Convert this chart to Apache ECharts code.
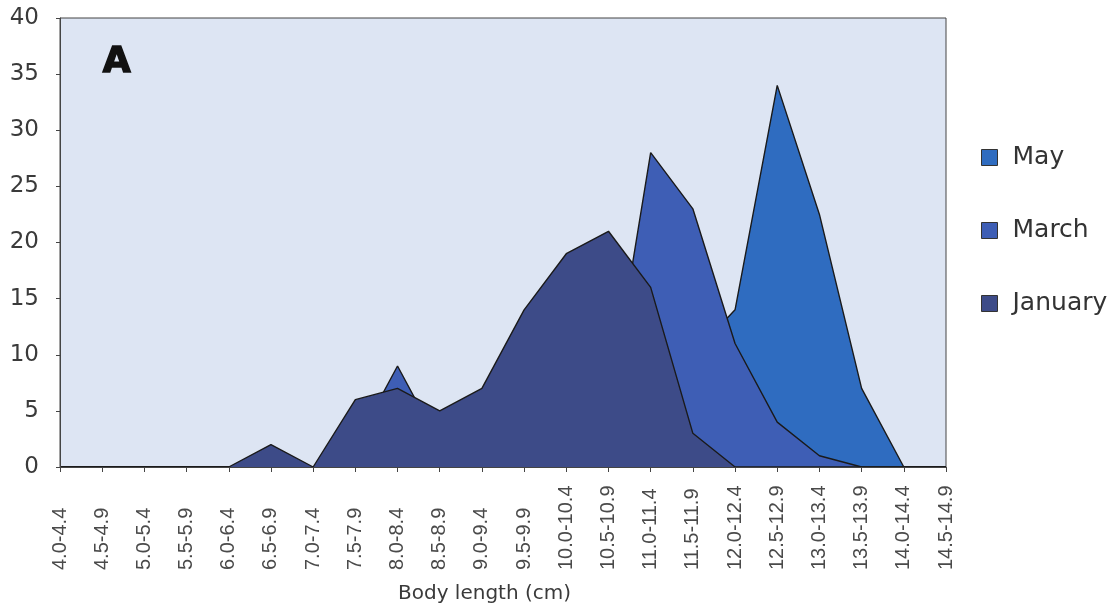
<!DOCTYPE html>
<html>
<head>
<meta charset="utf-8">
<title>Body length distribution</title>
<script src="https://cdn.jsdelivr.net/npm/echarts@6/dist/echarts.min.js"></script>
<style>
  html, body { margin: 0; padding: 0; background: #ffffff; }
  #chart { width: 1119px; height: 614px; }
</style>
</head>
<body>
<div id="chart"></div>
<script>
// Body length classes (cm)
const lengthClasses = [
  '4.0-4.4', '4.5-4.9', '5.0-5.4', '5.5-5.9', '6.0-6.4', '6.5-6.9',
  '7.0-7.4', '7.5-7.9', '8.0-8.4', '8.5-8.9', '9.0-9.4', '9.5-9.9',
  '10.0-10.4', '10.5-10.9', '11.0-11.4', '11.5-11.9', '12.0-12.4',
  '12.5-12.9', '13.0-13.4', '13.5-13.9', '14.0-14.4', '14.5-14.9'
];

// Frequencies per length class for each sampling month
const mayValues     = [0, 0, 0, 0, 0, 0, 0, 0, 0, 0, 0, 0, 0, 0, 4, 10, 14, 34, 22.5, 7, 0, 0];
const marchValues   = [0, 0, 0, 0, 0, 0, 0, 2, 9, 2, 3, 4, 4, 5, 28, 23, 11, 4, 1, 0, 0, 0];
const januaryValues = [0, 0, 0, 0, 0, 2, 0, 6, 7, 5, 7, 14, 19, 21, 16, 3, 0, 0, 0, 0, 0, 0];

const yTicks = { min: 0, max: 40, interval: 5 };

// Back-to-front drawing order: later months sit behind earlier ones
const seriesDefs = [
  { name: 'May',     data: mayValues,     color: '#2f6cc0', z: 2 },
  { name: 'March',   data: marchValues,   color: '#3e5eb5', z: 3 },
  { name: 'January', data: januaryValues, color: '#3d4b88', z: 4 }
];

const chart = echarts.init(document.getElementById('chart'), null, { renderer: 'canvas' });

chart.setOption({
  animation: false,
  backgroundColor: '#ffffff',
  grid: {
    left: 60, right: 173, top: 18, bottom: 147,
    show: true,
    backgroundColor: '#dde5f3',
    borderColor: '#444444',
    borderWidth: 1
  },
  legend: {
    orient: 'vertical',
    left: 976,
    top: 140,
    itemWidth: 16,
    itemHeight: 16,
    itemGap: 48,
    icon: 'rect',
    itemStyle: { borderColor: '#333333', borderWidth: 1 },
    textStyle: { fontFamily: 'DejaVu Sans', fontSize: 25, color: '#333333', padding: [0, 0, 0, 10] },
    data: seriesDefs.map(s => s.name)
  },
  xAxis: {
    type: 'category',
    data: lengthClasses,
    boundaryGap: false,
    z: 10,
    axisLine: { show: true, lineStyle: { color: '#444444', width: 1 } },
    axisTick: { show: true, length: 5, interval: 0, lineStyle: { color: '#444444' } },
    axisLabel: {
      interval: 0,
      rotate: 90,
      align: 'left',
      margin: 103,
      fontFamily: 'Liberation Sans',
      fontSize: 20,
      color: '#4a4a4a'
    },
    splitLine: { show: false }
  },
  yAxis: {
    type: 'value',
    min: yTicks.min,
    max: yTicks.max,
    interval: yTicks.interval,
    z: 10,
    axisLine: { show: true, lineStyle: { color: '#444444', width: 1 } },
    axisTick: { show: true, length: 4, lineStyle: { color: '#444444' } },
    axisLabel: {
      margin: 21,
      fontFamily: 'DejaVu Sans',
      fontSize: 23,
      color: '#3a3a3a'
    },
    splitLine: { show: false }
  },
  graphic: [
    {
      type: 'text',
      left: 398,
      top: 584,
      style: {
        text: 'Body length (cm)',
        fontFamily: 'DejaVu Sans',
        fontSize: 20,
        fill: '#3a3a3a'
      }
    },
    {
      type: 'text',
      left: 102,
      top: 44,
      style: {
        text: 'A',
        fontFamily: 'DejaVu Sans',
        fontWeight: 900,
        fontSize: 36,
        fill: '#111111',
        stroke: '#111111',
        lineWidth: 1.5
      }
    }
  ],
  series: seriesDefs.map(s => ({
    name: s.name,
    type: 'line',
    z: s.z,
    data: s.data,
    symbol: 'none',
    showSymbol: false,
    lineStyle: { color: '#1a1a1a', width: 1.4 },
    itemStyle: { color: s.color },
    areaStyle: { color: s.color, opacity: 1 },
    emphasis: { disabled: true }
  }))
});
</script>
</body>
</html>
